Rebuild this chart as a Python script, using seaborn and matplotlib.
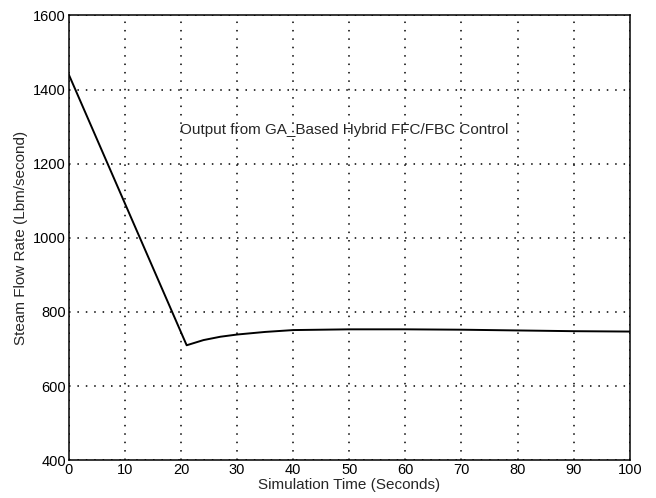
import numpy as np
import pandas as pd
import matplotlib
matplotlib.use('Agg')
import matplotlib.pyplot as plt
import seaborn as sns

# values
time_s = [0, 21, 24, 27, 30, 35, 40, 50, 60, 70, 80, 90, 100]
flow = [1440, 710, 724, 733, 739, 746, 751, 753, 753, 752, 750, 748, 747]
x_ticks = [0, 10, 20, 30, 40, 50, 60, 70, 80, 90, 100]
y_ticks = [400, 600, 800, 1000, 1200, 1400, 1600]

sns.set_style('white')
plt.rcParams['font.family'] = ['Liberation Sans', 'DejaVu Sans']

df = pd.DataFrame({'t': time_s, 'flow': flow})

fig = plt.figure(figsize=(6.56, 4.98), dpi=100)
ax = fig.add_axes([0.105, 0.076, 0.855, 0.893])
sns.lineplot(data=df, x='t', y='flow', color='black', linewidth=1.4, ax=ax)

ax.set_xlim(0, 100)
ax.set_ylim(400, 1600)
ax.set_xticks(x_ticks)
ax.set_yticks(y_ticks)
ax.grid(True, color='black', linestyle=(0, (1, 4.5)), linewidth=1.1)
ax.tick_params(direction='in', length=4, labelsize=10.5, colors='black', pad=2)
for s in ax.spines.values():
    s.set_color('black')
    s.set_linewidth(1.1)

ax.set_xlabel('Simulation Time (Seconds)', fontsize=11, labelpad=1)
ax.set_ylabel('Steam Flow Rate (Lbm/second)', fontsize=11, labelpad=4)
ax.text(19.8, 1290, 'Output from GA_Based Hybrid FFC/FBC Control',
        fontsize=11, va='center', ha='left')

fig.savefig('out.png', dpi=100)
